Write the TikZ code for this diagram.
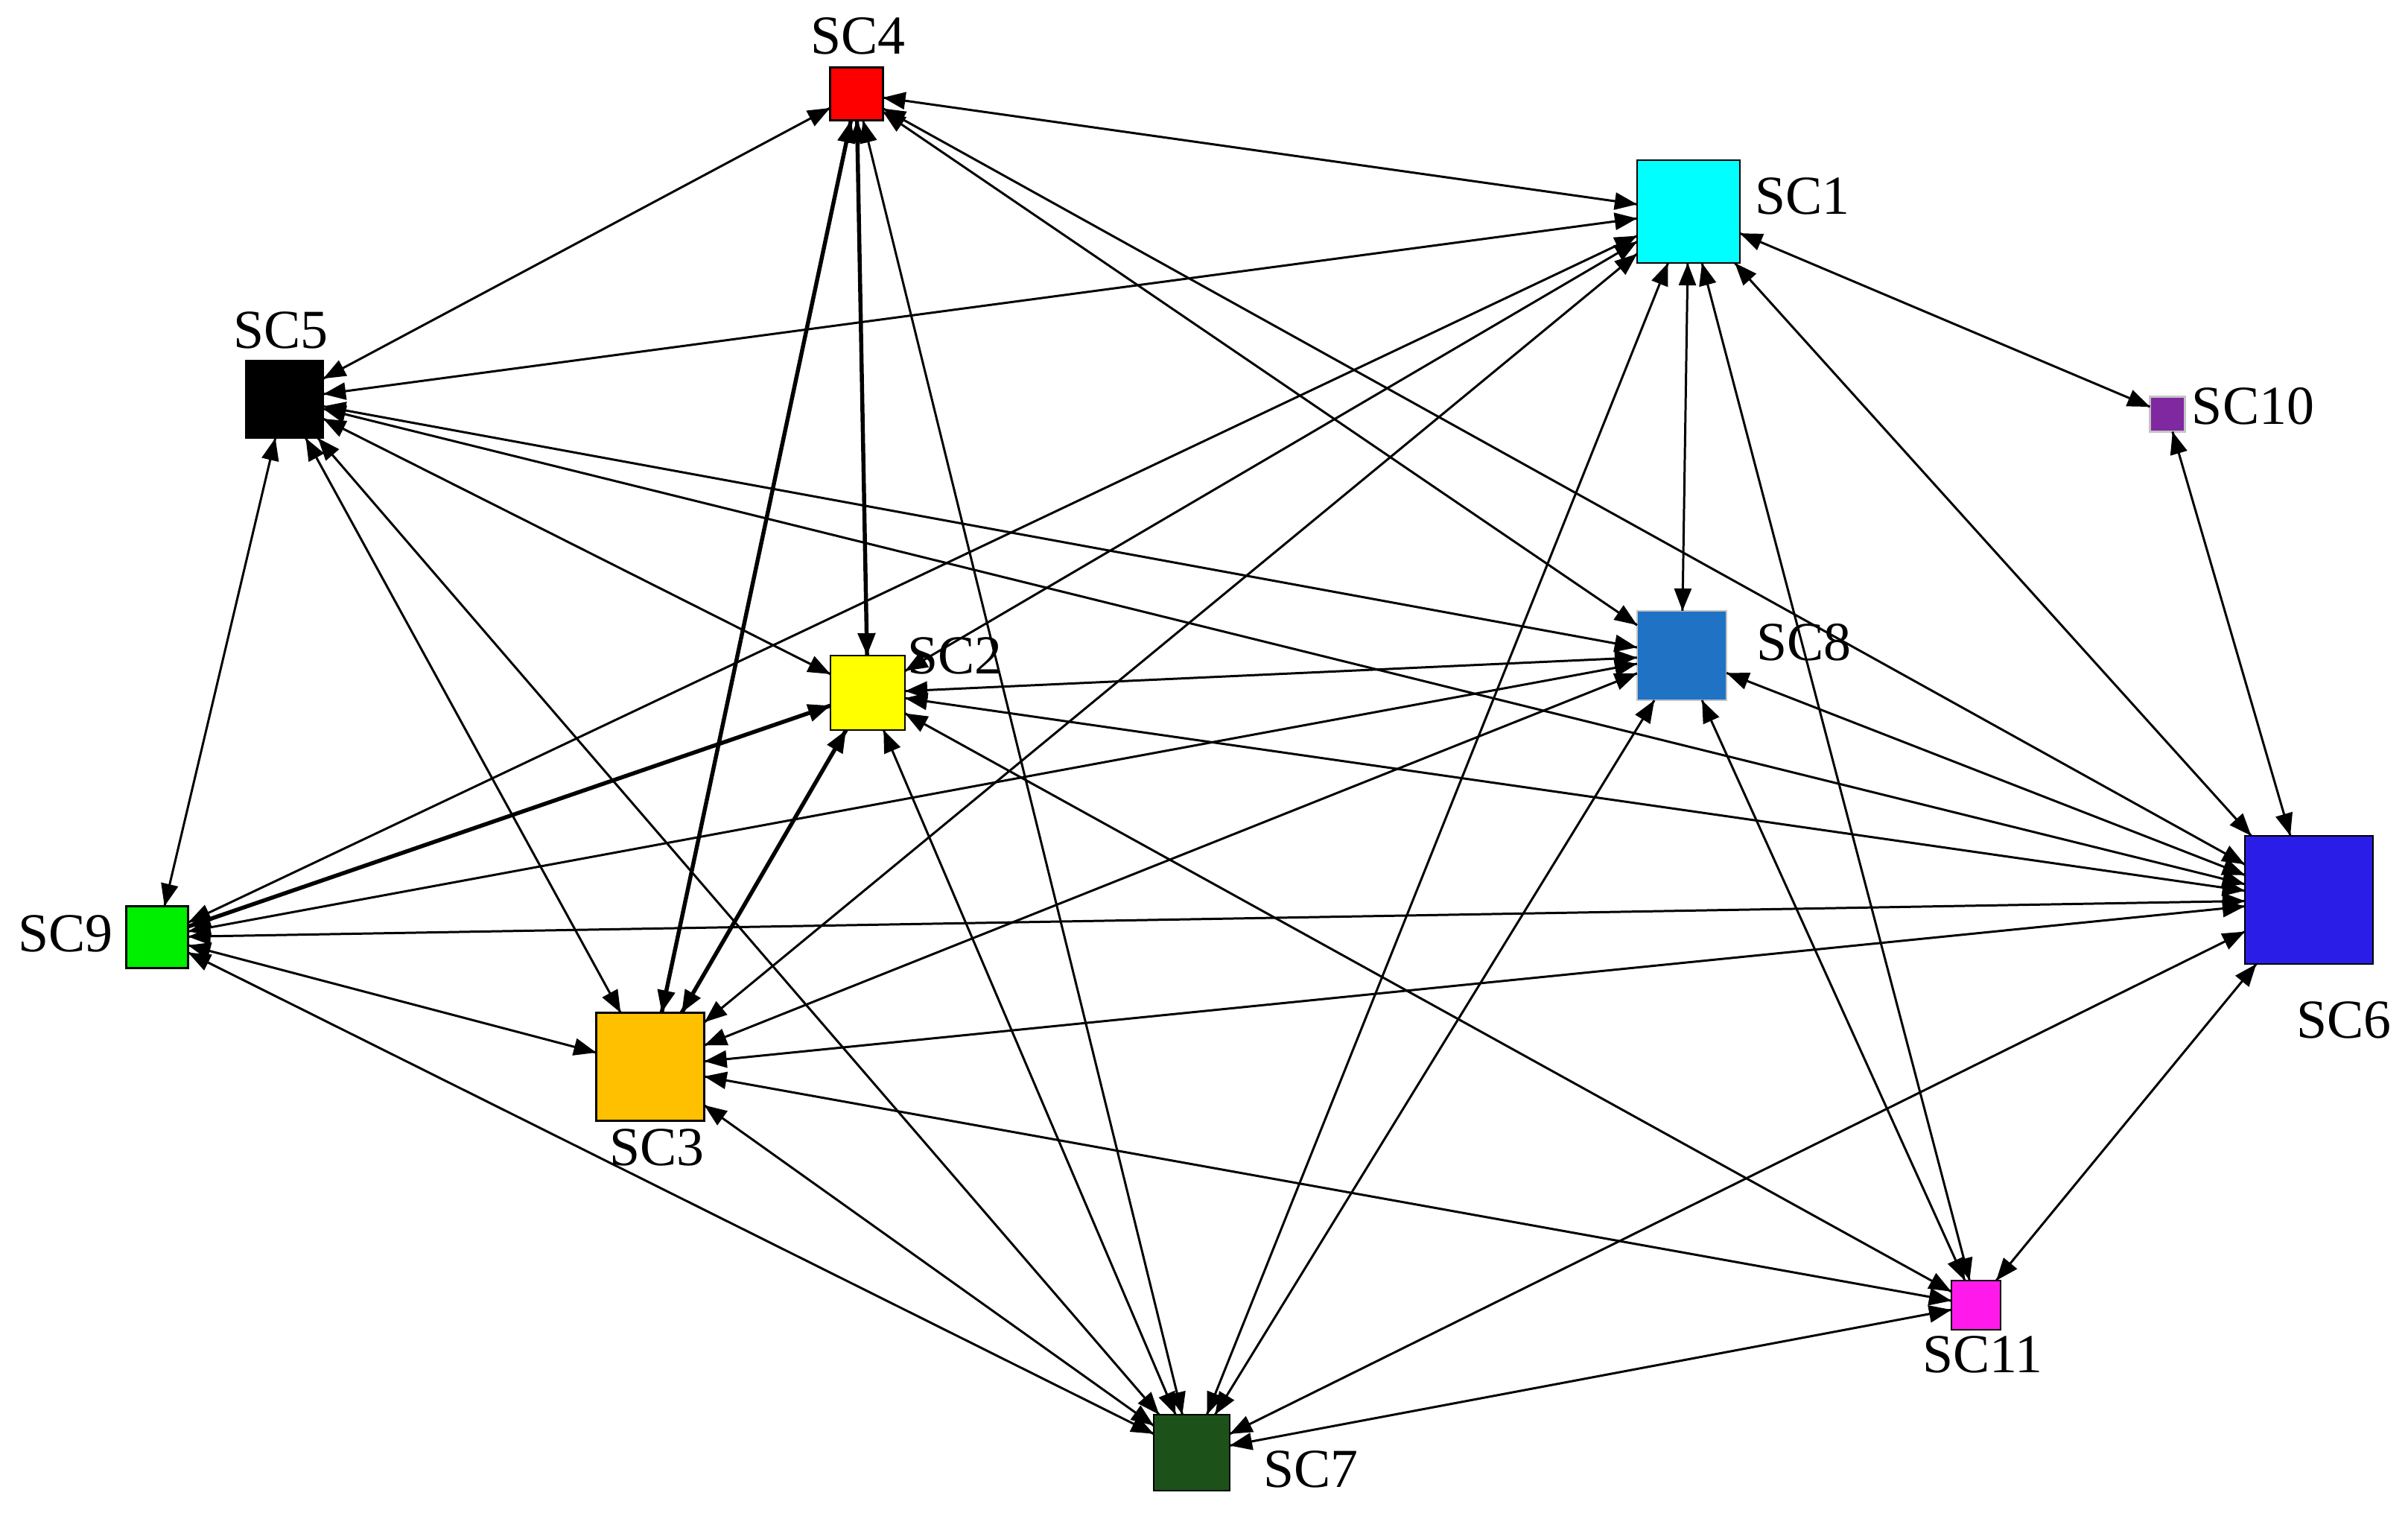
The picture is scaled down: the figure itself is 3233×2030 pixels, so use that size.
\documentclass[tikz,border=0pt]{standalone}
\usepackage{fontspec}
\setmainfont{Liberation Serif}
\usepackage{tikz}
\usetikzlibrary{arrows.meta}
\usetikzlibrary{decorations.markings}
\usetikzlibrary{positioning}
\tikzset{<->/.style = {decoration={markings,
                                   mark=at position 0 with {\arrowreversed{Triangle[length=3mm, width=2.3mm]}},
                                   mark=at position 1 with {\arrow{Triangle[length=3mm, width=2.3mm]}}},
                       postaction={decorate}}}
\tikzset{box/.style = {draw, line width=0.75pt, inner sep=0pt, outer sep=0pt, minimum size=#1},
         tag/.style = {anchor=base, inner sep=0pt, font=\fontsize{21pt}{25pt}\selectfont},
         link/.style = {<->, line width=0.85pt},
         heavy/.style = {<->, line width=1.55pt}}
\definecolor{sccyan}{RGB}{0, 255, 255}
\definecolor{scyellow}{RGB}{255, 255, 0}
\definecolor{scred}{RGB}{255, 0, 0}
\definecolor{scpurple}{HTML}{8028A0}
\definecolor{scblue}{HTML}{1F72C4}
\definecolor{scindigo}{HTML}{2B1DE8}
\definecolor{scgreen}{HTML}{00EE00}
\definecolor{scorange}{HTML}{FFC000}
\definecolor{scmagenta}{HTML}{FF1AEB}
\definecolor{scforest}{HTML}{1C521A}
\definecolor{scgray}{HTML}{C4C4C4}

\begin{document}
\begin{tikzpicture}[x=0.01cm, y=-0.01cm]
      \useasboundingbox (0, 0) rectangle (3233, 2030);

      % boxes
      \node [box=1.38cm, fill=sccyan] (sc1) at (2267, 284) {};
      \node [box=1.00cm, fill=scyellow] (sc2) at (1165, 930) {};
      \node [box=1.45cm, fill=scorange] (sc3) at (873, 1432) {};
      \node [box=0.71cm, fill=scred] (sc4) at (1150, 126) {};
      \node [box=1.04cm, fill=black] (sc5) at (382, 536) {};
      \node [box=1.72cm, fill=scindigo] (sc6) at (3100, 1208) {};
      \node [box=1.02cm, fill=scforest] (sc7) at (1600, 1950) {};
      \node [box=1.20cm, fill=scblue, draw=scgray] (sc8) at (2258, 880) {};
      \node [box=0.83cm, fill=scgreen] (sc9) at (211, 1258) {};
      \node [box=0.47cm, fill=scpurple, draw=scgray] (sc10) at (2910, 556) {};
      \node [box=0.66cm, fill=scmagenta] (sc11) at (2653, 1752) {};

      % labels
      \node [tag] (l1) at (2420, 287) {SC1};
      \node [tag] (l2) at (1282, 904) {SC2};
      \node [tag] (l3) at (882, 1564) {SC3};
      \node [tag] (l4) at (1152, 72) {SC4};
      \node [tag] (l5) at (377, 467) {SC5};
      \node [tag] (l6) at (3147, 1393) {SC6};
      \node [tag] (l7) at (1760, 1996) {SC7};
      \node [tag] (l8) at (2422, 886) {SC8};
      \node [tag] (l9) at (88, 1277) {SC9};
      \node [tag] (l10) at (3025, 569) {SC10};
      \node [tag] (l11) at (2662, 1842) {SC11};

      % links
      \foreach \a/\b in {sc4/sc5, sc4/sc1, sc4/sc7, sc4/sc8, sc4/sc6,
                         sc1/sc5, sc1/sc2, sc1/sc9, sc1/sc3, sc1/sc10,
                         sc1/sc8, sc1/sc6, sc1/sc11, sc1/sc7,
                         sc5/sc2, sc5/sc8, sc5/sc6, sc5/sc9, sc5/sc3, sc5/sc7,
                         sc10/sc6,
                         sc8/sc2, sc8/sc9, sc8/sc3, sc8/sc7, sc8/sc6, sc8/sc11,
                         sc2/sc6, sc2/sc7, sc2/sc11,
                         sc9/sc6, sc9/sc3, sc9/sc7,
                         sc6/sc3, sc6/sc7, sc6/sc11,
                         sc3/sc11, sc3/sc7, sc7/sc11} {
        \draw [link] (\a) -- (\b);
      }
      \foreach \a/\b in {sc4/sc2, sc4/sc3, sc2/sc9, sc2/sc3} {
        \draw [heavy] (\a) -- (\b);
      }
    \end{tikzpicture}
\end{document}
